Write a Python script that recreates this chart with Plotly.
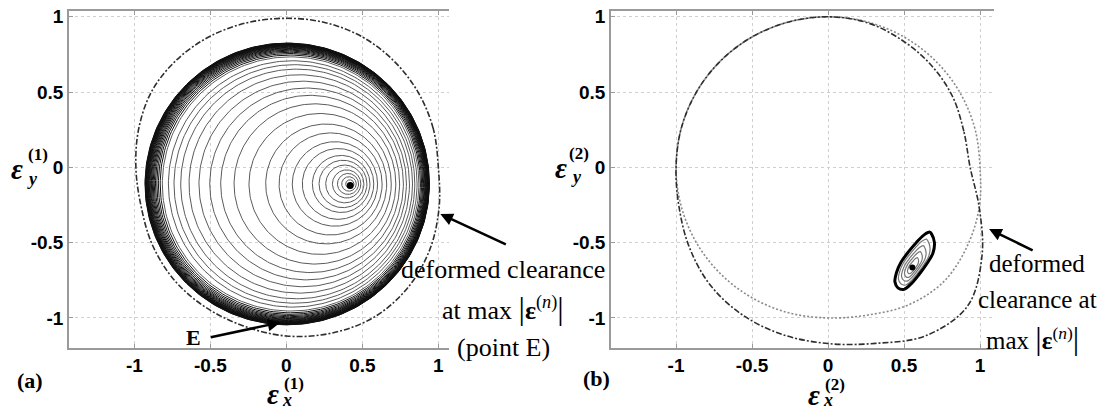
import numpy as np
import plotly.graph_objects as go

W, H = 1105, 411

# ---------------- data ----------------
tick_vals = [-1, -0.5, 0, 0.5, 1]
tick_text = ["-1", "-0.5", "0", "0.5", "1"]

# panel (a): orbit rings, read as left/right crossing of the row through the centre
ring_left = [0.39, 0.364, 0.336, 0.303, 0.259, 0.215, 0.171, 0.105, 0.039, -0.048,
             -0.136, -0.246, -0.344, -0.432, -0.504, -0.575, -0.640, -0.695, -0.739,
             -0.776, -0.816]
ring_right = [0.445, 0.46, 0.475, 0.49, 0.51, 0.53, 0.55, 0.575, 0.60, 0.63,
              0.66, 0.69, 0.72, 0.745, 0.77, 0.79, 0.81, 0.83, 0.845,
              0.86, 0.872]
# dense band of rings close to the limit cycle
band_left = [-0.83, -0.842, -0.852, -0.861, -0.869, -0.876, -0.882, -0.888, -0.893,
             -0.898, -0.902, -0.906, -0.909, -0.912, -0.915, -0.918, -0.920, -0.922,
             -0.924, -0.926, -0.928, -0.930]
band_right = [0.882, 0.89, 0.897, 0.903, 0.908, 0.912, 0.916, 0.919, 0.922,
              0.925, 0.927, 0.929, 0.931, 0.933, 0.934, 0.935, 0.936, 0.937,
              0.938, 0.939, 0.940, 0.941]
ring_cy = -0.11
orbit_a_centre_x = [0.42]
orbit_a_centre_y = [-0.12]

# polar sampling angles (degrees) for the clearance curves
clear_angles = [0, 15, 30, 45, 60, 75, 90, 105, 120, 135, 150, 165, 180, 195, 210,
                225, 240, 255, 270, 285, 300, 315, 330, 345, 360]
# panel (a): deformed clearance at max |eps| (radius at each angle)
clear_a_r = [1.0, 1.0, 1.0, 1.0, 1.0, 0.995, 0.99, 0.995, 1.005, 1.015, 1.02, 1.005,
             0.99, 0.99, 1.02, 1.05, 1.07, 1.09, 1.12, 1.14, 1.15, 1.13, 1.09, 1.04, 1.0]
# panel (b): nominal clearance (dotted)
nom_b_r = [1.0, 1.0, 1.0, 1.0, 1.0, 1.0, 1.0, 1.0, 1.0, 1.0, 1.0, 1.0, 1.0, 1.0, 1.0,
           1.0, 1.0, 1.0, 1.0, 1.015, 1.055, 1.075, 1.055, 1.03, 1.0]
# panel (b): deformed clearance (dash-dot)
clear_b_r = [0.935, 0.925, 0.945, 0.96, 0.975, 0.995, 1.0, 1.0, 1.0, 1.0, 1.0, 1.0,
             1.0, 1.015, 1.055, 1.10, 1.13, 1.15, 1.17, 1.21, 1.29, 1.30, 1.17, 1.03, 0.935]

# panel (b): orbit (outer loop) and inner contour scales
orbit_b_x = [0.68, 0.70, 0.69, 0.65, 0.60, 0.55, 0.50, 0.46, 0.44, 0.45, 0.48, 0.53,
             0.58, 0.63, 0.67, 0.68]
orbit_b_y = [-0.44, -0.50, -0.57, -0.64, -0.71, -0.77, -0.81, -0.80, -0.76, -0.70,
             -0.63, -0.56, -0.50, -0.45, -0.43, -0.44]
orbit_b_centre_x = [0.555]
orbit_b_centre_y = [-0.665]
orbit_b_scales = [0.8, 0.62, 0.45, 0.28]

# ---------------- figure ----------------
fig = go.Figure()
t = np.linspace(0, 2 * np.pi, 241)


def rings(lefts, rights):
    xs, ys = [], []
    for L, R in zip(lefts, rights):
        cx, r = (L + R) / 2, (R - L) / 2
        xs += list(cx + r * np.cos(t)) + [None]
        ys += list(ring_cy + r * np.sin(t)) + [None]
    return xs, ys


def polar_xy(radii):
    a = np.radians(clear_angles)
    r = np.array(radii)
    return list(r * np.cos(a)), list(r * np.sin(a))


rx, ry = rings(ring_left, ring_right)
fig.add_trace(go.Scatter(x=rx, y=ry, mode="lines", line=dict(color="#5a5a5a", width=1.0),
                         xaxis="x", yaxis="y", hoverinfo="skip"))
bx, by = rings(band_left, band_right)
fig.add_trace(go.Scatter(x=bx, y=by, mode="lines", line=dict(color="#111111", width=1.0),
                         xaxis="x", yaxis="y", hoverinfo="skip"))
fig.add_trace(go.Scatter(x=orbit_a_centre_x, y=orbit_a_centre_y, mode="markers",
                         marker=dict(color="black", size=7), xaxis="x", yaxis="y"))
cax, cay = polar_xy(clear_a_r)
fig.add_trace(go.Scatter(x=cax, y=cay, mode="lines",
                         line=dict(color="#2e2e2e", width=1.6, dash="6px,2px,2px,2px",
                                   shape="spline", smoothing=1.0),
                         xaxis="x", yaxis="y"))

# panel (b)
nbx, nby = polar_xy(nom_b_r)
fig.add_trace(go.Scatter(x=nbx, y=nby, mode="lines",
                         line=dict(color="#8a8a8a", width=1.6, dash="2px,2px",
                                   shape="spline", smoothing=1.0),
                         xaxis="x2", yaxis="y2"))
cbx, cby = polar_xy(clear_b_r)
fig.add_trace(go.Scatter(x=cbx, y=cby, mode="lines",
                         line=dict(color="#2e2e2e", width=1.6, dash="6px,2px,2px,2px",
                                   shape="spline", smoothing=1.0),
                         xaxis="x2", yaxis="y2"))
ox0, oy0 = orbit_b_centre_x[0], orbit_b_centre_y[0]
ix, iy = [], []
for s in orbit_b_scales:
    ix += [ox0 + s * (x - ox0) for x in orbit_b_x] + [None]
    iy += [oy0 + s * (y - oy0) for y in orbit_b_y] + [None]
fig.add_trace(go.Scatter(x=ix, y=iy, mode="lines",
                         line=dict(color="#777777", width=1.2, shape="spline"),
                         xaxis="x2", yaxis="y2"))
fig.add_trace(go.Scatter(x=orbit_b_x, y=orbit_b_y, mode="lines",
                         line=dict(color="black", width=3, shape="spline"),
                         xaxis="x2", yaxis="y2"))
fig.add_trace(go.Scatter(x=orbit_b_centre_x, y=orbit_b_centre_y, mode="markers",
                         marker=dict(color="black", size=6), xaxis="x2", yaxis="y2"))

# ---------------- axes ----------------
def px(x):
    return x / W


def py(y):
    return 1 - y / H


axis_common = dict(
    tickvals=tick_vals, ticktext=tick_text, showgrid=True, gridcolor="#cfcfcf",
    griddash="dot", gridwidth=1, zeroline=False, showline=True, linecolor="#9a9a9a",
    linewidth=1.5, ticks="inside", ticklen=4, tickcolor="#9a9a9a",
    tickfont=dict(family="Liberation Sans", size=19, color="black", weight="bold"),
)

fig.update_layout(
    width=W, height=H, margin=dict(l=0, r=0, t=0, b=0),
    paper_bgcolor="white", plot_bgcolor="white", showlegend=False,
    xaxis=dict(domain=[px(69), px(449)], range=[-1.43, 1.07], anchor="y",
               mirror="ticks", **axis_common),
    yaxis=dict(domain=[py(347), py(7)], range=[-1.197, 1.039], anchor="x", **axis_common),
    xaxis2=dict(domain=[px(611), px(994)], range=[-1.428, 1.092], anchor="y2",
                mirror="ticks", **axis_common),
    yaxis2=dict(domain=[py(347), py(7)], range=[-1.197, 1.039], anchor="x2", **axis_common),
)

# ---------------- annotations ----------------
serif = "Liberation Serif"
ann = []


def txt(x, y, s, size, bold=False, italic=False, xanchor="center"):
    ann.append(dict(xref="paper", yref="paper", x=px(x), y=py(y), text=s, showarrow=False,
                    xanchor=xanchor, yanchor="middle",
                    font=dict(family=serif, size=size, color="black",
                              weight="bold" if bold else "normal",
                              style="italic" if italic else "normal")))


# axis titles: epsilon with stacked superscript / subscript
for (ex, ey, sx, sy, bx_, by_, sup, sub) in [
    (17, 167, 38, 152, 32, 177, "(1)", "y"),
    (273, 394, 294, 383, 287, 400, "(1)", "x"),
    (561, 166, 579, 151, 576, 175, "(2)", "y"),
    (814, 395, 835, 384, 828, 400, "(2)", "x"),
]:
    txt(ex, ey, "ε", 29, bold=True, italic=True)
    txt(sx, sy, sup, 17, bold=True)
    txt(bx_, by_, sub, 18, bold=True, italic=True)

txt(30, 380, "(a)", 22, bold=True)
txt(596, 378, "(b)", 22, bold=True)
txt(193, 337, "E", 22, bold=True)

bar = "<span style='font-size:32px'>|</span>"
eps_n = "<b>ε</b><sup>(<i>n</i>)</sup>"
txt(503, 268, "deformed clearance", 26)
txt(503, 307, "at max " + bar + eps_n + bar, 26)
txt(503, 347, "(point E)", 26)

txt(1037, 262, "deformed", 25)
txt(1037, 298, "clearance at", 25)
txt(1032, 337, "max " + bar + eps_n + bar, 25)

# arrows
for (xr, yr, hx, hy, axp, ayp) in [
    ("x", "y", -0.04, -1.03, -71, 15),
    ("x", "y", 1.013, -0.31, 67, 31),
    ("x2", "y2", 1.06, -0.41, 45, 22),
]:
    ann.append(dict(xref=xr, yref=yr, x=hx, y=hy, ax=axp, ay=ayp, axref="pixel", ayref="pixel",
                    text="", showarrow=True, arrowhead=2, arrowsize=1, arrowwidth=2.5,
                    arrowcolor="black"))

fig.update_layout(annotations=ann)

fig.write_html("out.html")
